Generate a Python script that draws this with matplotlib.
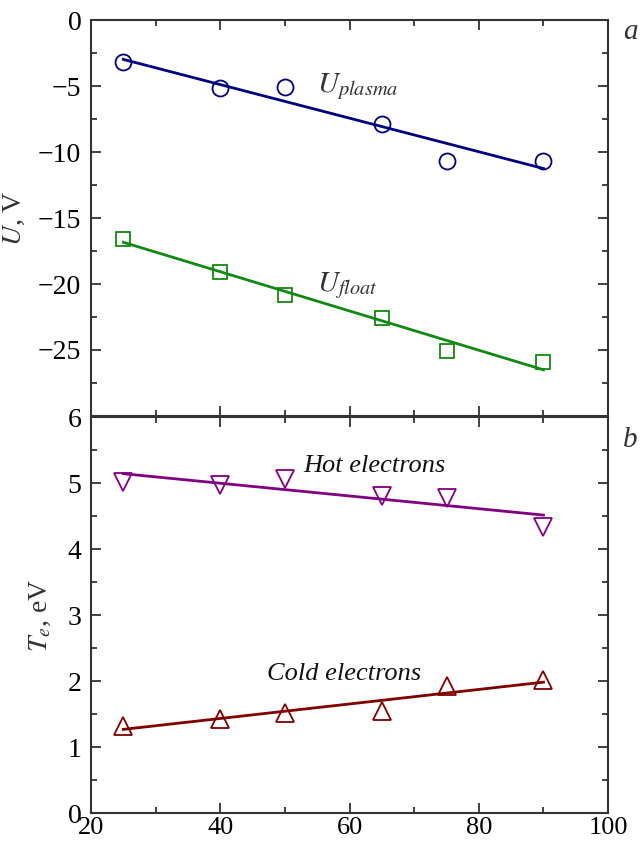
import numpy as np
import matplotlib
matplotlib.use("Agg")
import matplotlib.pyplot as plt
from matplotlib.ticker import MultipleLocator

plt.rcParams['font.family'] = ['Liberation Serif', 'DejaVu Serif']
plt.rcParams['mathtext.fontset'] = 'stix'

# data
x = np.array([25, 40, 50, 65, 75, 90])
u_plasma = np.array([-3.2, -5.15, -5.1, -7.9, -10.65, -10.7])
u_float = np.array([-16.56, -19.06, -20.86, -22.55, -25.1, -25.9])
te_hot = np.array([5.02, 4.97, 5.06, 4.8, 4.78, 4.34])
te_cold = np.array([1.32, 1.43, 1.52, 1.55, 1.92, 2.01])

axis_col = '#333333'
text_col = '#333333'

fig = plt.figure(figsize=(6.4, 8.46), dpi=100)
ax1 = fig.add_axes([0.1422, 0.5083, 0.808, 0.468])
ax2 = fig.add_axes([0.1422, 0.039, 0.808, 0.468])


def style(ax):
    for s in ax.spines.values():
        s.set_color(axis_col)
        s.set_linewidth(1.5)
    ax.tick_params(which='both', direction='in', top=True, right=True,
                   colors=axis_col, labelcolor='black', width=1.3)
    ax.tick_params(which='major', length=7, labelsize=20)
    ax.tick_params(which='minor', length=4)
    ax.tick_params(axis='y', pad=7)
    ax.tick_params(axis='x', pad=3, labelsize=19)
    ax.set_xlim(20, 100)
    ax.xaxis.set_major_locator(MultipleLocator(20))
    ax.xaxis.set_minor_locator(MultipleLocator(10))


def fit_line(ax, xs, ys, color):
    k, b = np.polyfit(xs, ys, 1)
    ax.plot([xs[0], xs[-1]], [k * xs[0] + b, k * xs[-1] + b], '-', color=color, lw=2, zorder=2)


# panel a
style(ax1)
ax1.set_ylim(-30, 0)
ax1.yaxis.set_minor_locator(MultipleLocator(2.5))
ax1.set_yticks([-25, -20, -15, -10, -5, 0])
ax1.set_yticklabels(['\u221225', '\u221220', '\u221215', '\u221210', '\u22125', '0'])
ax1.tick_params(axis='x', labelbottom=False)
fit_line(ax1, x, u_plasma, '#000080')
fit_line(ax1, x, u_float, '#118811')
ax1.plot(x, u_plasma, 'o', ms=11.5, mfc='none', mec='#000080', mew=1.3, zorder=3)
ax1.plot(x, u_float, 's', ms=10.5, mfc='none', mec='#118811', mew=1.3, zorder=3)
ax1.text(54.9, -5.45, r'$U_{plasma}$', fontsize=21, color=text_col)
ax1.text(54.9, -20.5, r'$U_{float}$', fontsize=21, color=text_col)
ax1.set_ylabel(r'$U$, V', fontsize=20, color=text_col)
ax1.yaxis.set_label_coords(-0.124, 0.5)
ax1.text(1.043, 0.97, 'a', transform=ax1.transAxes, fontsize=21, style='italic', color=text_col,
         ha='center', va='center')

# panel b
style(ax2)
ax2.set_ylim(0, 6)
ax2.yaxis.set_major_locator(MultipleLocator(1))
ax2.yaxis.set_minor_locator(MultipleLocator(0.5))
fit_line(ax2, x, te_hot, '#800080')
fit_line(ax2, x, te_cold, '#800000')
ax2.plot(x, te_hot, 'v', ms=13, mfc='none', mec='#800080', mew=1.3, zorder=3)
ax2.plot(x, te_cold, '^', ms=13, mfc='none', mec='#800000', mew=1.3, zorder=3)
ax2.text(52.9, 5.17, 'Hot electrons', fontsize=19, style='italic', color='#111111')
ax2.text(47.3, 2.02, 'Cold electrons', fontsize=19, style='italic', color='#111111')
ax2.set_ylabel(r'$T_e$, eV', fontsize=20, color=text_col)
ax2.yaxis.set_label_coords(-0.0735, 0.5)
ax2.text(1.043, 0.942, 'b', transform=ax2.transAxes, fontsize=21, style='italic', color=text_col,
         ha='center', va='center')

fig.savefig('out.png', dpi=100)
